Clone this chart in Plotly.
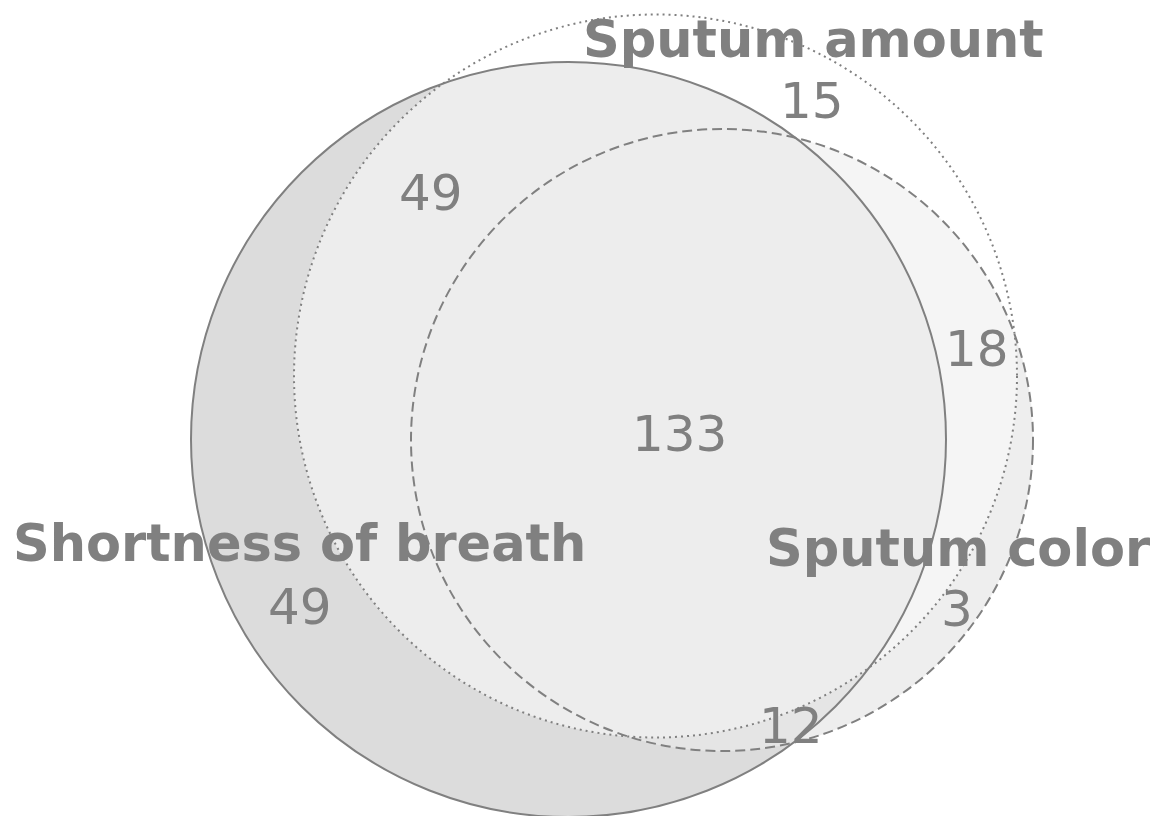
import numpy as np
import plotly.graph_objects as go

# ---------------- data ----------------
set_labels = ["Shortness of breath", "Sputum amount", "Sputum color"]
# region membership codes: (Shortness of breath, Sputum amount, Sputum color)
region_codes = ["100", "010", "110", "001", "101", "011", "111"]
region_counts = [49, 15, 49, 3, 12, 18, 133]

# ---------------- layout / geometry (pixel units) ----------------
W, H = 1159, 816
CIRCLES = [(568.5, 439.5, 377.5),   # Shortness of breath
           (655.5, 376.0, 361.5),   # Sputum amount
           (722.0, 440.0, 311.0)]   # Sputum color
CIRCLE_DASH = ["solid", "2px,4px", "10px,5px"]
REGION_COLORS = {"100": "#dcdcdc", "010": "#ffffff", "110": "#ededed",
                 "001": "#eeeeee", "101": "#e5e5e5", "011": "#f5f5f5",
                 "111": "#ededed"}
COUNT_POS = {"100": (300, 607), "010": (812, 101), "110": (431, 193),
             "001": (957, 609), "101": (791, 726), "011": (977, 349),
             "111": (679, 434)}
SET_LABEL_POS = [(299, 543), (813, 39), (958, 548)]
TEXT_COLOR = "#808080"
LABEL_SIZE = 51
COUNT_SIZE = 50


def region_path(code):
    mem = [ch == "1" for ch in code]
    th = np.linspace(0, 2 * np.pi, 4000, endpoint=False)
    arcs = []
    for i, (cx, cy, r) in enumerate(CIRCLES):
        px = cx + r * np.cos(th)
        py = cy + r * np.sin(th)
        ok = np.ones_like(th, dtype=bool)
        for j, (cx2, cy2, r2) in enumerate(CIRCLES):
            if j == i:
                continue
            ins = (px - cx2) ** 2 + (py - cy2) ** 2 < r2 ** 2
            ok &= (ins == mem[j])
        if not ok.any():
            continue
        if ok.all():
            runs = [list(range(len(th)))]
        else:
            start = int(np.argmin(ok))
            idx = np.roll(np.arange(len(th)), -start)
            runs, cur = [], []
            for k in idx:
                if ok[k]:
                    cur.append(k)
                elif cur:
                    runs.append(cur)
                    cur = []
            if cur:
                runs.append(cur)
        for run in runs:
            xs, ys = px[run], py[run]
            if not mem[i]:
                xs, ys = xs[::-1], ys[::-1]
            arcs.append((list(xs), list(ys)))
    if not arcs:
        return [], []
    path_x, path_y = list(arcs[0][0]), list(arcs[0][1])
    remaining = arcs[1:]
    while remaining:
        ex, ey = path_x[-1], path_y[-1]
        d = [(a[0][0] - ex) ** 2 + (a[1][0] - ey) ** 2 for a in remaining]
        k = int(np.argmin(d))
        a = remaining.pop(k)
        path_x += a[0]
        path_y += a[1]
    path_x.append(path_x[0])
    path_y.append(path_y[0])
    return path_x, path_y


fig = go.Figure()

for code in region_codes:
    xs, ys = region_path(code)
    fig.add_trace(go.Scatter(x=xs, y=ys, mode="lines", fill="toself",
                             fillcolor=REGION_COLORS[code],
                             line=dict(width=0.5, color=REGION_COLORS[code]),
                             hoverinfo="skip", showlegend=False))

for (cx, cy, r), dash in zip(CIRCLES, CIRCLE_DASH):
    fig.add_shape(type="circle", xref="x", yref="y",
                  x0=cx - r, x1=cx + r, y0=cy - r, y1=cy + r,
                  line=dict(color="#808080", width=2, dash=dash),
                  fillcolor="rgba(0,0,0,0)", layer="above")

for code, cnt in zip(region_codes, region_counts):
    x, y = COUNT_POS[code]
    fig.add_annotation(x=x, y=y, text=str(cnt), showarrow=False,
                       xanchor="center", yanchor="middle",
                       font=dict(family="DejaVu Sans", size=COUNT_SIZE,
                                 color=TEXT_COLOR))

for lab, (x, y) in zip(set_labels, SET_LABEL_POS):
    fig.add_annotation(x=x, y=y, text=lab, showarrow=False,
                       xanchor="center", yanchor="middle",
                       font=dict(family="DejaVu Sans", size=LABEL_SIZE,
                                 color=TEXT_COLOR, weight="bold"))

fig.update_layout(width=W, height=H, margin=dict(l=0, r=0, t=0, b=0),
                  paper_bgcolor="white", plot_bgcolor="white",
                  showlegend=False)
fig.update_xaxes(range=[0, W], visible=False, fixedrange=True)
fig.update_yaxes(range=[H, 0], visible=False, fixedrange=True)

fig.write_html("out.html", config={"displayModeBar": False},
               post_script="document.body.style.margin='0px';"
                           "document.body.style.overflow='hidden';")
